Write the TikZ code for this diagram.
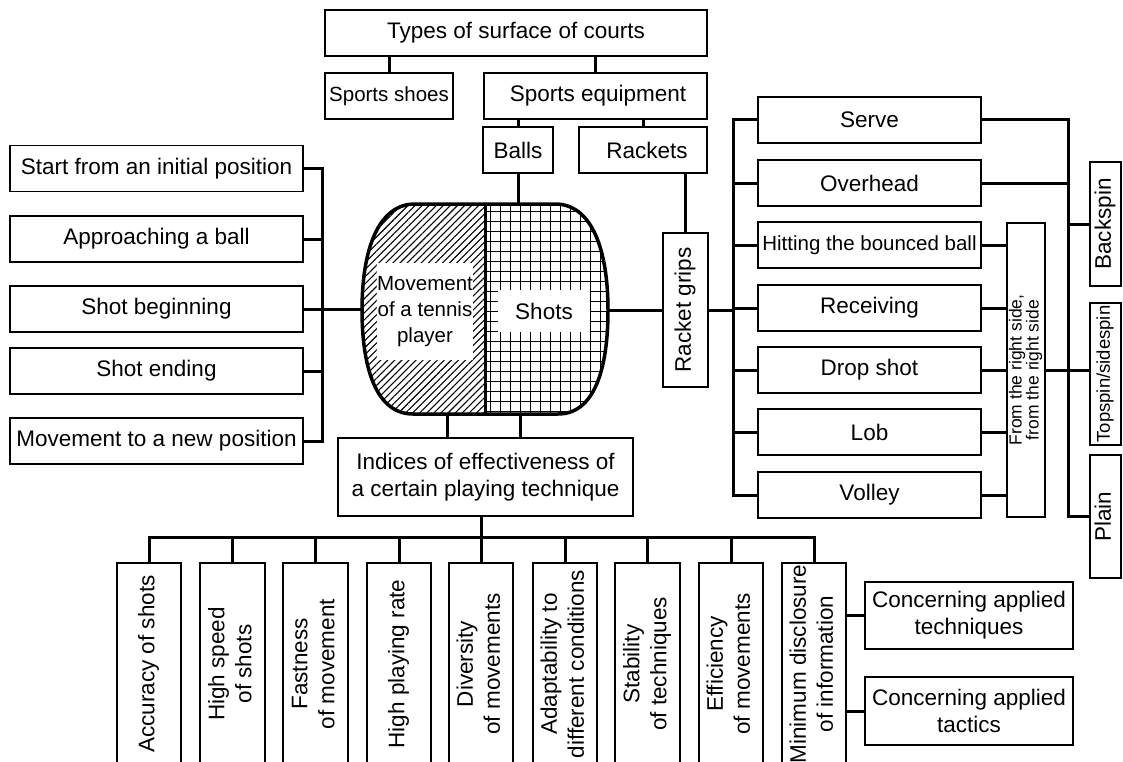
\documentclass[tikz,border=0pt]{standalone}
\usepackage{fontspec}
\setmainfont{Liberation Sans}
\usetikzlibrary{patterns.meta}
\newcommand{\myvert}[1]{\rotatebox{90}{\begin{tabular}{@{}c@{}}#1\end{tabular}}}
\begin{document}
\begin{tikzpicture}[x=1pt,y=-1pt,
  box/.style={draw, line width=1.8pt, inner sep=0pt, align=center, font=\fontsize{22.5}{27}\selectfont},
  sbox/.style={box, font=\fontsize{20.5}{24}\selectfont},
  tbox/.style={box, line width=2.8pt},
  obox/.style={inner sep=0pt, align=center, font=\fontsize{22.5}{27}\selectfont, minimum width=64, minimum height=202},
  oline/.style={line width=1.8pt},
  conn/.style={line width=3pt},
  lbox/.style={box, minimum width=293, minimum height=46},
  rbox/.style={box, minimum width=223, minimum height=46}]
\useasboundingbox (0,0) rectangle (1123,762);
\fill[white] (0,0) rectangle (1123,762);

% central shape
\def\shapepath{(415,204) -- (555,204) .. controls (592,204) and (608,250) .. (608,310) .. controls (608,370) and (594,414) .. (558,414) -- (413,414) .. controls (377,414) and (362,370) .. (362,310) .. controls (362,250) and (378,204) .. (415,204) -- cycle}
\begin{scope}
  \clip \shapepath;
  \fill[pattern={Lines[angle=45,distance=5pt,line width=1.1pt]}] (350,190) rectangle (485,430);
  \fill[pattern={Hatch[angle=0,distance=10pt,line width=1pt]}] (485,190) rectangle (620,430);
\end{scope}
\node[fill=white, minimum width=96, minimum height=97, inner sep=0pt, align=center, font=\fontsize{20.5}{26}\selectfont] (mov) at (425,311.5) {Movement\\of a tennis\\player};
\node[fill=white, minimum width=92, minimum height=42, inner sep=0pt, font=\fontsize{22.5}{27}\selectfont] (shots) at (544,311) {Shots};
\draw[line width=3.5pt] \shapepath;
\draw[line width=3pt] (485,204) -- (485,414);
\coordinate (shT) at (518,204);
\coordinate (shL) at (362,309);
\coordinate (shR) at (608,310);
\coordinate (shB1) at (447,414);
\coordinate (shB2) at (520,414);

% top
\node[box, minimum width=382, minimum height=46] (types) at (516,33) {Types of surface of courts};
\node[sbox, minimum width=128, minimum height=46] (shoes) at (389,96) {Sports shoes};
\node[box, minimum width=223, minimum height=46] (equip) at (595.5,96) {\hspace{5pt}Sports equipment};
\node[box, minimum width=70, minimum height=46] (balls) at (518,150) {Balls};
\node[box, minimum width=128, minimum height=46] (rackets) at (643,150) {\hspace{8pt}Rackets};
\node[box, minimum width=45, minimum height=154] (grips) at (685.5,310) {\myvert{Racket grips}};

% left
\node[lbox] (start) at (156.5,168.5) {Start from an initial position};
\node[lbox] (appr) at (156.5,239) {Approaching a ball};
\node[lbox] (sbeg) at (156.5,309) {Shot beginning};
\node[lbox] (send) at (156.5,371) {Shot ending};
\node[lbox] (newp) at (156.5,441) {Movement to a new position};

% right
\node[rbox] (serve) at (869.5,120) {Serve};
\node[rbox] (over) at (869.5,183) {Overhead};
\node[rbox, font=\fontsize{20.5}{24}\selectfont] (hit) at (869.5,245) {Hitting the bounced ball};
\node[rbox] (recv) at (869.5,308) {Receiving};
\node[rbox] (drop) at (869.5,370) {Drop shot};
\node[rbox] (lob) at (869.5,432) {Lob};
\node[rbox] (volley) at (869.5,495) {Volley};
\node[box, minimum width=38, minimum height=294, font=\fontsize{17.5}{15}\selectfont] (from) at (1026,370) {\raisebox{0pt}{\myvert{From the right side,\\from the right side}}};
\node[box, minimum width=31, minimum height=124] (back) at (1105.5,224) {\myvert{Backspin}};
\node[box, minimum width=31, minimum height=142, font=\fontsize{18.5}{22}\selectfont] (tops) at (1105.5,374) {\myvert{Topspin/sidespin}};
\node[box, minimum width=31, minimum height=123] (plain) at (1105.5,516.5) {\myvert{Plain}};

% indices
\node[box, minimum width=295, minimum height=78] (indices) at (485.5,477) {Indices of effectiveness of\\a certain playing technique};

% bottom boxes
\node[obox] (acc) at (149,664) {\myvert{Accuracy of shots}};
\node[obox] (hs) at (232.5,664) {\myvert{High speed\\of shots}};
\node[obox] (fast) at (315.5,664) {\myvert{Fastness\\of movement}};
\node[obox] (hpr) at (399,664) {\myvert{High playing rate}};
\node[obox] (div) at (481,664) {\myvert{Diversity\\of movements}};
\node[obox] (adapt) at (565,664) {\myvert{Adaptability to\\different conditions}};
\node[obox] (stab) at (647.5,664) {\myvert{Stability\\of techniques}};
\node[obox] (eff) at (731,664) {\myvert{Efficiency\\of movements}};
\node[obox] (mind) at (814,664) {\myvert{Minimum disclosure\\of information}};
\foreach \n in {acc,hs,fast,hpr,div,adapt,stab,eff,mind}
  \draw[oline] (\n.south west) |- (\n.north east) -- (\n.south east);

\node[tbox, minimum width=208, minimum height=67] (ctech) at (969,615.5) {Concerning applied\\techniques};
\node[tbox, minimum width=208, minimum height=68] (ctac) at (969,711) {Concerning applied\\tactics};

% connectors top
\draw[conn] (shoes.north) -- (shoes.north |- types.south);
\draw[conn] (equip.north) -- (equip.north |- types.south);
\draw[conn] (balls.north) -- (balls.north |- equip.south);
\draw[conn] (rackets.north) -- (rackets.north |- equip.south);
\draw[conn] (balls.south) -- (shT);
\draw[conn] (rackets.south -| grips.north) -- (grips.north);
\draw[conn] (shR) -- (grips.west);

% left bus
\coordinate (lbus) at (322,0);
\draw[conn] (start.east) -| (lbus |- newp.east) -- (newp.east);
\draw[conn] (appr.east) -- (appr.east -| lbus);
\draw[conn] (send.east) -- (send.east -| lbus);
\draw[conn] (sbeg.east) -- (shL);

% right bus
\coordinate (rbus) at (733,0);
\draw[conn] (serve.west) -| (rbus |- volley.west) -- (volley.west);
\foreach \n in {over,hit,recv,drop,lob}
  \draw[conn] (\n.west) -- (\n.west -| rbus);
\draw[conn] (grips.east) -- (grips.east -| rbus);
\foreach \n in {hit,recv,drop,lob,volley}
  \draw[conn] (\n.east) -- (\n.east -| from.west);

% far right bus
\coordinate (fbus) at (1068,0);
\draw[conn] (serve.east) -| (fbus |- plain.west) -- (plain.west);
\draw[conn] (over.east) -- (over.east -| fbus);
\draw[conn] (fbus |- back.west) -- (back.west);
\draw[conn] (from.east) -- (from.east -| tops.west);

% indices
\draw[conn] (shB1) -- (shB1 |- indices.north);
\draw[conn] (shB2) -- (shB2 |- indices.north);
\coordinate (bus) at (0,537);
\draw[conn] (indices.south -| div.north) -- (div.north);
\draw[conn] (acc.north) -- (acc.north |- bus) -- (mind.north |- bus) -- (mind.north);
\foreach \n in {hs,fast,hpr,adapt,stab,eff}
  \draw[conn] (\n.north) -- (\n.north |- bus);
\draw[conn] (ctech.west -| mind.east) -- (ctech.west);
\draw[conn] (ctac.west -| mind.east) -- (ctac.west);
\end{tikzpicture}
\end{document}
